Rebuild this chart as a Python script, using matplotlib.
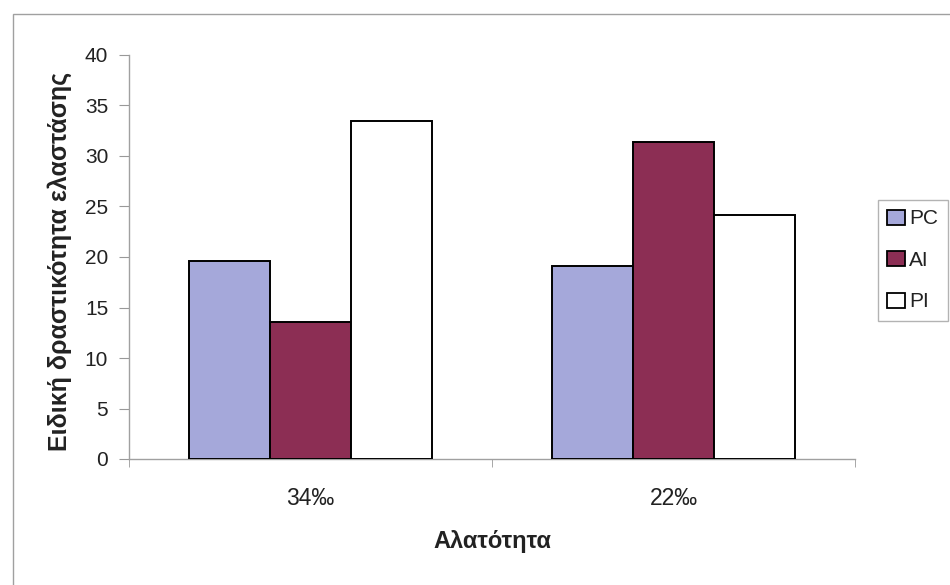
import matplotlib
matplotlib.use("Agg")
import matplotlib.pyplot as plt
from matplotlib.patches import Rectangle
import numpy as np

plt.rcParams['font.family'] = ['Liberation Sans', 'DejaVu Sans']

categories = ["34‰", "22‰"]
series_names = ["PC", "AI", "PI"]
pc_values = [19.6, 19.1]
ai_values = [13.6, 31.4]
pi_values = [33.5, 24.2]
colors = ["#A5A8DA", "#8C2E54", "#FFFFFF"]

fig = plt.figure(figsize=(9.5, 5.85), dpi=100)
W, H = 950, 585

# outer chart frame (top and left edges visible)
fig.patches.append(Rectangle((13 / W, -0.1), 1.2, 1 - 14 / H + 0.1,
                             transform=fig.transFigure, fill=False,
                             edgecolor="#a0a0a0", linewidth=1.0))

ax = fig.add_axes([129 / W, 1 - 459 / H, (855 - 129) / W, (459 - 55) / H])
x = np.arange(len(categories))
width = 0.223
for i, (vals, name, c) in enumerate(zip([pc_values, ai_values, pi_values],
                                        series_names, colors)):
    ax.bar(x + (i - 1) * width, vals, width, color=c, edgecolor="black",
           linewidth=1.4, label=name, zorder=3)

ax.set_xlim(-0.5, 1.5)
ax.set_ylim(0, 40)
ax.set_yticks(range(0, 41, 5))
ax.tick_params(axis='y', labelsize=15, length=7, color="#999999", pad=8,
               labelcolor="#222222")
ax.set_xticks(x)
ax.set_xticklabels(categories)
ax.set_xticks([-0.5, 0.5, 1.5], minor=True)
ax.tick_params(axis='x', which='major', length=0, labelsize=16.5, pad=20,
               labelcolor="#222222")
ax.tick_params(axis='x', which='minor', length=6, color="#999999")

for s in ["top", "right"]:
    ax.spines[s].set_visible(False)
for s in ["left", "bottom"]:
    ax.spines[s].set_color("#a0a0a0")
    ax.spines[s].set_linewidth(1.0)

ax.set_xlabel("Αλατότητα", fontsize=17, fontweight="bold", color="#222222")
ax.xaxis.set_label_coords(0.5, -0.175)
ax.set_ylabel("Ειδική δραστικότητα ελαστάσης", fontsize=18,
              fontweight="bold", color="#222222")
ax.yaxis.set_label_coords(-0.078, 0.488)

leg = fig.legend(loc="upper left", bbox_to_anchor=(878 / W, 1 - 200 / H),
                 fontsize=15, frameon=True, fancybox=False, handlelength=0.85,
                 handleheight=0.72, handletextpad=0.2, labelspacing=1.08,
                 borderpad=0.45, borderaxespad=0)
leg.get_frame().set_edgecolor("#a0a0a0")
leg.get_frame().set_linewidth(1.0)
for h in leg.legend_handles:
    h.set_linewidth(1.3)
for t in leg.get_texts():
    t.set_color("#222222")

fig.savefig("out.png", dpi=100)
